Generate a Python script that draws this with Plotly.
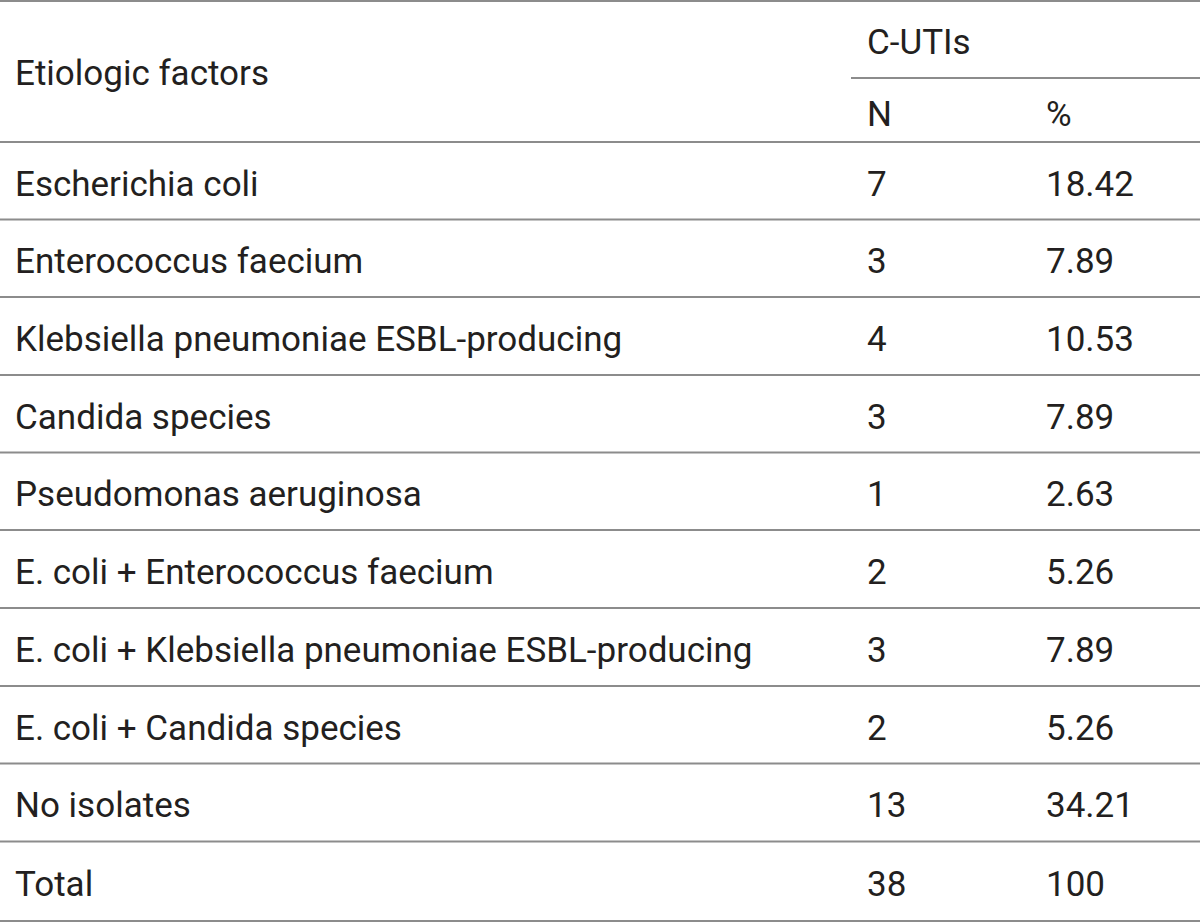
import plotly.graph_objects as go

factors = [
    "Escherichia coli",
    "Enterococcus faecium",
    "Klebsiella pneumoniae ESBL-producing",
    "Candida species",
    "Pseudomonas aeruginosa",
    "E. coli + Enterococcus faecium",
    "E. coli + Klebsiella pneumoniae ESBL-producing",
    "E. coli + Candida species",
    "No isolates",
    "Total",
]
n_values = ["7", "3", "4", "3", "1", "2", "3", "2", "13", "38"]
pct_values = ["18.42", "7.89", "10.53", "7.89", "2.63", "5.26", "7.89", "5.26", "34.21", "100"]
header_col1 = "Etiologic factors"
header_group = "C-UTIs"
header_n = "N"
header_pct = "%"

# layout (pixel-like coordinates)
W, H = 1200, 924
row_lines = [142, 219.5, 297, 375, 452.5, 530, 608, 686, 763.5, 841.5, 921]
top_line = 1
sub_line = 78
x_col1, x_n, x_pct = 15, 867, 1046
sub_x0 = 851
FONT = "Roboto"
FS = 35
TXT = "#231f20"
LINE = "#8c8c8c"

row_y = [(row_lines[i] + row_lines[i + 1]) / 2 + 6 for i in range(len(factors))]

fig = go.Figure()
for xs, texts in [(x_col1, factors), (x_n, n_values), (x_pct, pct_values)]:
    fig.add_trace(go.Scatter(x=[xs] * len(texts), y=row_y, text=texts, mode="text",
                             textposition="middle right",
                             textfont=dict(family=FONT, size=FS, color=TXT),
                             hoverinfo="skip", showlegend=False))
fig.add_trace(go.Scatter(x=[x_col1, x_n, x_n, x_pct],
                         y=[(top_line + row_lines[0]) / 2 + 5, (top_line + sub_line) / 2 + 6,
                            (sub_line + row_lines[0]) / 2 + 7, (sub_line + row_lines[0]) / 2 + 7],
                         text=[header_col1, header_group, header_n, header_pct], mode="text",
                         textposition="middle right",
                         textfont=dict(family=FONT, size=FS, color=TXT),
                         hoverinfo="skip", showlegend=False))

shapes = []
for y in [top_line] + row_lines:
    shapes.append(dict(type="line", xref="x", yref="y", x0=0, x1=W, y0=y, y1=y,
                       line=dict(color=LINE, width=2)))
shapes.append(dict(type="line", xref="x", yref="y", x0=sub_x0, x1=W, y0=sub_line, y1=sub_line,
                   line=dict(color=LINE, width=2)))

fig.update_layout(
    width=W, height=H,
    margin=dict(l=0, r=0, t=0, b=0),
    paper_bgcolor="white", plot_bgcolor="white",
    xaxis=dict(range=[0, W], visible=False, fixedrange=True),
    yaxis=dict(range=[H, 0], visible=False, fixedrange=True),
    shapes=shapes,
)
fig.write_html("out.html", config={"displayModeBar": False},
               post_script="document.body.style.margin='0';document.body.style.overflow='hidden';")
